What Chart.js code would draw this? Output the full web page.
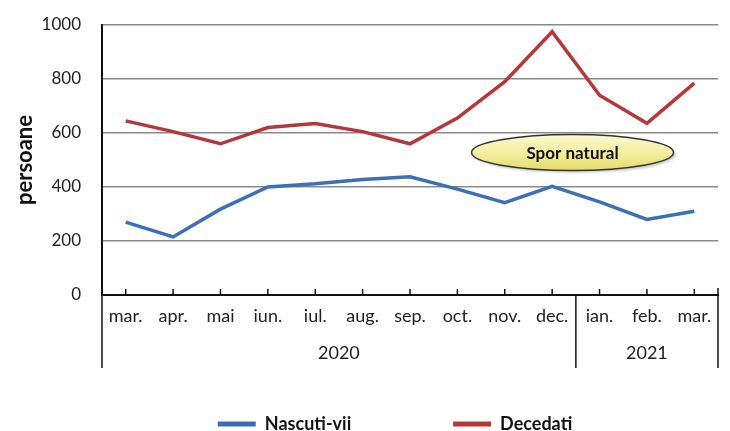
<!DOCTYPE html>
<html>
<head>
<meta charset="utf-8">
<script src="https://cdn.jsdelivr.net/npm/chart.js@4.4.1/dist/chart.umd.min.js"></script>
<style>
html, body { margin: 0; padding: 0; background: #fff; }
#cutie { width: 730px; height: 431px; }
</style>
</head>
<body>
<div id="cutie"><canvas id="grafic"></canvas></div>
<script>
// ######### date
// ###########################################

const luni = ['mar.', 'apr.', 'mai', 'iun.', 'iul.', 'aug.', 'sep.', 'oct.', 'nov.', 'dec.', 'ian.', 'feb.', 'mar.'];
const ani = ['2020', '2021'];
const luniPeAn = [10, 3];
const nascutiVii = [270, 215, 318, 400, 412, 428, 438, 392, 342, 402, 345, 280, 310];
const decedati = [645, 605, 560, 620, 635, 605, 560, 655, 790, 975, 740, 636, 785];
const yMax = 1000;
const yPas = 200;
const eticheta = 'Spor natural';

const albastru = '#3b6fb6';
const rosu = '#b5373a';
const font = 'Lato';

// ######### axa x pe doua nivele + elipsa
// ###########################################

const axePlugin = {
    id: 'axeAni',
    afterLayout(chart) {
        // legenda mutata putin spre dreapta si in jos, ca in original
        if (chart.legend) {
            chart.legend.left += 36;
            chart.legend.right += 36;
            chart.legend.top += 12;
            chart.legend.bottom += 12;
        }
    },
    afterDraw(chart) {
        const ctx = chart.ctx;
        const x = chart.scales.x;
        const y = chart.scales.y;
        const area = chart.chartArea;
        const baza = y.getPixelForValue(0);
        const jos = baza + 73;
        const pas = x.getPixelForValue(1) - x.getPixelForValue(0);

        ctx.save();
        ctx.strokeStyle = '#111';
        ctx.lineWidth = 1.5;

        function linie(x1, y1, x2, y2) {
            ctx.beginPath();
            ctx.moveTo(x1, y1);
            ctx.lineTo(x2, y2);
            ctx.stroke();
        }

        // liniute spre interior
        for (let i = 0; i < luni.length; i++) {
            const px = x.getPixelForValue(i);
            linie(px, baza - 6, px, baza);
        }

        // stanga
        linie(area.left, baza, area.left, jos);

        // ani
        ctx.fillStyle = '#222';
        ctx.font = '18px ' + font;
        ctx.textAlign = 'center';
        ctx.textBaseline = 'middle';
        let start = 0;
        let stanga = area.left;
        ani.forEach((an, k) => {
            const sf = start + luniPeAn[k];
            let dreapta;
            if (sf < luni.length) {
                dreapta = x.getPixelForValue(sf - 1) + pas / 2;
                linie(dreapta, baza, dreapta, jos);
            } else {
                dreapta = area.right;
                linie(dreapta, baza - 7, dreapta, jos);
            }
            ctx.fillText(an, (stanga + dreapta) / 2, baza + 58);
            stanga = dreapta;
            start = sf;
        });

        // elipsa spor natural
        const cx = x.getPixelForValue(9) + pas * 0.43;
        const cy = y.getPixelForValue(528);
        const rx = 101;
        const ry = 18;
        ctx.shadowColor = 'rgba(0,0,0,0.25)';
        ctx.shadowOffsetX = 2;
        ctx.shadowOffsetY = 2;
        ctx.shadowBlur = 3;
        const grad = ctx.createLinearGradient(0, cy - ry, 0, cy + ry);
        grad.addColorStop(0, '#fbf9d2');
        grad.addColorStop(0.5, '#f4ee9e');
        grad.addColorStop(1, '#e6dd6a');
        ctx.beginPath();
        ctx.ellipse(cx, cy, rx, ry, 0, 0, Math.PI * 2);
        ctx.fillStyle = grad;
        ctx.fill();
        ctx.shadowColor = 'transparent';
        ctx.lineWidth = 1.5;
        ctx.strokeStyle = '#333';
        ctx.stroke();
        ctx.fillStyle = '#111';
        ctx.font = 'bold 17px ' + font;
        ctx.fillText(eticheta, cx, cy + 1);

        ctx.restore();
    }
};

// ######### grafic
// ###########################################

const grafic = document.getElementById('grafic');

if (grafic) {
    const ctx = grafic.getContext('2d');
    const chart = new Chart(ctx, {
        type: 'line',
        data: {
            labels: luni,
            datasets: [{
                label: 'Nascuti-vii',
                data: nascutiVii,
                borderColor: albastru,
                backgroundColor: albastru,
                borderWidth: 3.5,
                pointRadius: 0,
                tension: 0
            },
            {
                label: 'Decedati',
                data: decedati,
                borderColor: rosu,
                backgroundColor: rosu,
                borderWidth: 3.5,
                pointRadius: 0,
                tension: 0
            }]
        },
        options: {
            responsive: true,
            maintainAspectRatio: false,
            animation: false,
            layout: { padding: { top: 25, right: 12, left: 0, bottom: 0 } },
            plugins: {
                tooltip: { enabled: false },
                legend: {
                    position: 'bottom',
                    labels: {
                        color: '#111',
                        font: { family: font, size: 18, weight: 'bold' },
                        boxWidth: 38,
                        boxHeight: 5,
                        padding: 10,
                        generateLabels(c) {
                            const items = Chart.defaults.plugins.legend.labels.generateLabels(c);
                            items.forEach((it, i) => {
                                it.lineWidth = 0;
                                // spatiu mare intre cele doua serii
                                if (i < items.length - 1) it.text = it.text + ' '.repeat(21);
                            });
                            return items;
                        }
                    }
                }
            },
            scales: {
                x: {
                    offset: true,
                    grid: { display: false, drawTicks: false },
                    border: { color: '#111', width: 2 },
                    ticks: {
                        color: '#222',
                        font: { family: font, size: 18 },
                        padding: 10,
                        maxRotation: 0,
                        autoSkip: false
                    },
                    afterFit(s) { s.height = 98; }
                },
                y: {
                    min: 0,
                    max: yMax,
                    grid: { color: '#8a8a8a', lineWidth: 1.5, drawTicks: false },
                    border: { color: '#111', width: 2 },
                    ticks: {
                        stepSize: yPas,
                        color: '#222',
                        font: { family: font, size: 17 },
                        padding: 21,
                        callback: v => String(v)
                    },
                    title: {
                        display: true,
                        text: 'persoane',
                        color: '#111',
                        font: { family: font, size: 22, weight: 'bold' },
                        padding: { top: 12, bottom: 0 }
                    },
                    afterFit(s) {
                        s.width = 102;
                        s.paddingTop = 0;
                    }
                }
            }
        },
        plugins: [axePlugin]
    });
}
</script>
</body>
</html>
